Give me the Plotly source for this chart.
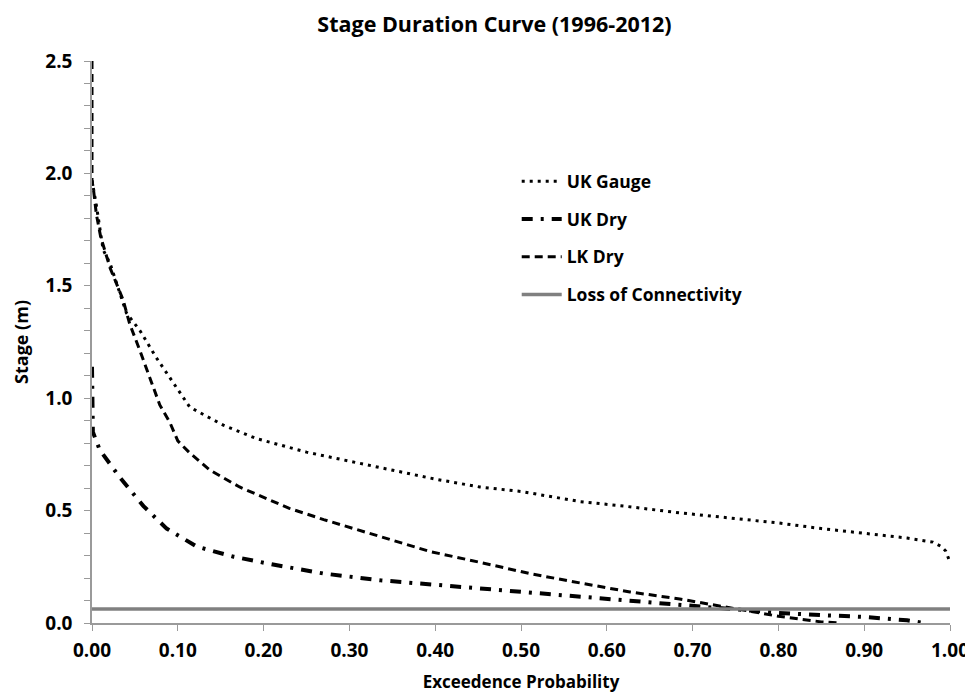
import plotly.graph_objects as go

# Exceedence probability / stage values
uk_gauge_x = [0.0, 0.002, 0.005, 0.013, 0.021, 0.04, 0.056, 0.075, 0.095, 0.114, 0.153, 0.192, 0.25, 0.30, 0.336, 0.40, 0.452, 0.50, 0.569, 0.62, 0.685, 0.75, 0.80, 0.85, 0.90, 0.95, 0.98, 0.99, 0.995, 1.0]
uk_gauge_y = [1.97, 1.93, 1.86, 1.66, 1.60, 1.38, 1.30, 1.18, 1.07, 0.96, 0.88, 0.82, 0.76, 0.72, 0.69, 0.64, 0.605, 0.585, 0.54, 0.52, 0.49, 0.465, 0.445, 0.42, 0.40, 0.378, 0.36, 0.34, 0.32, 0.27]

uk_dry_x = [0.0, 0.0, 0.0, 0.001, 0.009, 0.033, 0.06, 0.087, 0.122, 0.165, 0.211, 0.27, 0.336, 0.40, 0.452, 0.50, 0.569, 0.62, 0.685, 0.75, 0.80, 0.85, 0.90, 0.95, 0.97]
uk_dry_y = [1.14, 1.0, 0.88, 0.85, 0.77, 0.645, 0.52, 0.42, 0.34, 0.295, 0.26, 0.22, 0.19, 0.17, 0.155, 0.14, 0.117, 0.10, 0.08, 0.06, 0.045, 0.035, 0.027, 0.012, 0.0]

lk_dry_x = [0.0, 0.0, 0.0, 0.002, 0.005, 0.01, 0.021, 0.036, 0.044, 0.056, 0.068, 0.079, 0.091, 0.10, 0.114, 0.1375, 0.172, 0.20, 0.23, 0.27, 0.31, 0.347, 0.394, 0.452, 0.51, 0.569, 0.627, 0.685, 0.75, 0.80, 0.85, 0.87]
lk_dry_y = [2.5, 2.2, 1.97, 1.92, 1.82, 1.72, 1.58, 1.44, 1.33, 1.21, 1.08, 0.97, 0.89, 0.81, 0.756, 0.68, 0.605, 0.56, 0.51, 0.46, 0.415, 0.37, 0.318, 0.27, 0.22, 0.178, 0.138, 0.107, 0.065, 0.03, 0.005, 0.0]

connectivity_x = [0.0, 1.0]
connectivity_y = [0.062, 0.062]

x_ticks = [0.0, 0.1, 0.2, 0.3, 0.4, 0.5, 0.6, 0.7, 0.8, 0.9, 1.0]
y_ticks = [0.0, 0.5, 1.0, 1.5, 2.0, 2.5]

FONT = "Open Sans"
AXIS_GRAY = "#9a9a9a"

fig = go.Figure()
fig.add_trace(go.Scatter(x=uk_gauge_x, y=uk_gauge_y, mode="lines", name="UK Gauge",
                         legendgroup="a", line=dict(color="black", width=3, dash="3px,5px")))
fig.add_trace(go.Scatter(x=uk_dry_x, y=uk_dry_y, mode="lines", name="UK Dry",
                         legendgroup="b", line=dict(color="black", width=4, dash="11px,8px,3px,8px")))
fig.add_trace(go.Scatter(x=lk_dry_x, y=lk_dry_y, mode="lines", name="LK Dry",
                         legendgroup="c", line=dict(color="black", width=3, dash="8px,5px")))
fig.add_trace(go.Scatter(x=connectivity_x, y=connectivity_y, mode="lines", name="Loss of Connectivity",
                         legendgroup="d", line=dict(color="#808080", width=3.5)))

fig.update_layout(
    width=973, height=696,
    paper_bgcolor="white", plot_bgcolor="white",
    margin=dict(l=84, r=31, t=53, b=81),
    title=dict(text="Stage Duration Curve (1996-2012)", x=0.5, xanchor="center",
               y=0.987, yanchor="top", font=dict(family=FONT, size=21.5, color="black", weight="bold")),
    font=dict(family=FONT, color="black"),
    showlegend=True,
    legend=dict(x=0.495, y=0.818, xanchor="left", yanchor="top", bgcolor="rgba(0,0,0,0)",
                font=dict(family=FONT, size=17.5, color="black", weight="bold"), tracegroupgap=12,
                itemwidth=40),
)
fig.update_xaxes(range=[0, 1], tickvals=x_ticks, tickformat=".2f", automargin=False,
                 showgrid=False, zeroline=False, showline=True, linecolor=AXIS_GRAY, linewidth=1.5,
                 ticks="outside", ticklen=6, tickcolor=AXIS_GRAY, ticklabelstandoff=3,
                 tickfont=dict(family=FONT, size=19, color="black", weight="bold"),
                 title=dict(text="Exceedence Probability", font=dict(family=FONT, size=17, color="black", weight="bold"), standoff=15))
fig.update_yaxes(range=[0, 2.5], tickvals=y_ticks, tickformat=".1f", automargin=False,
                 showgrid=False, zeroline=False, showline=True, linecolor=AXIS_GRAY, linewidth=1.5,
                 ticks="outside", ticklen=6, tickcolor=AXIS_GRAY, ticklabelstandoff=8,
                 minor=dict(dtick=0.1, ticks="outside", ticklen=6, tickcolor=AXIS_GRAY, showgrid=False),
                 tickfont=dict(family=FONT, size=19, color="black", weight="bold"),
                 title=dict(text="Stage (m)", font=dict(family=FONT, size=18, color="black", weight="bold"), standoff=12))

fig.write_html("out.html")
